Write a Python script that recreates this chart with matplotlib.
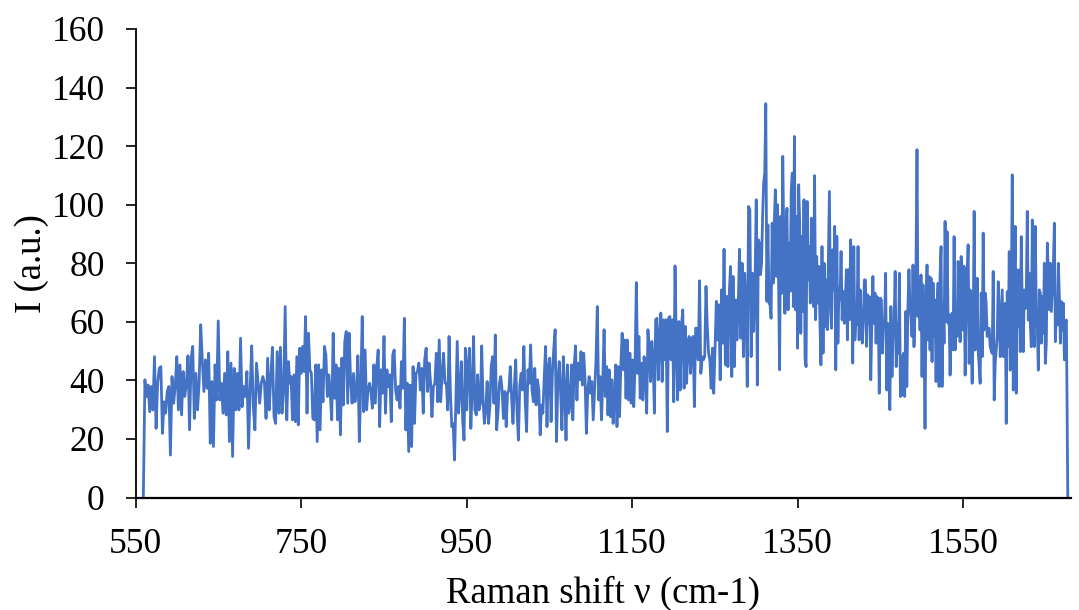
import numpy as np
import matplotlib
matplotlib.use('Agg')
import matplotlib.pyplot as plt

# Raman spectrum, values
# each piece: (start cm-1, end cm-1) and intensities between them
seg1_range = (559.3, 736.5)
seg1 = [0, 40.2, 34.5, 38.4, 29.3, 37.9, 29.9, 48.1, 23.6, 39.0, 44.1, 44.7, 21.9, 32.7, 28.8,
        36.2, 37.9, 14.5, 41.3, 32.2, 37.9, 48.1, 29.9, 45.3, 28.2, 43.0, 34.5, 39.0, 48.4, 23.1,
        47.6, 51.6, 27.0, 42.4, 29.9, 39.0, 59.0, 47.0, 36.2, 47.0, 37.3, 49.3, 18.5, 39.6, 17.4,
        45.3, 33.3, 60.3, 33.3, 39.0, 28.8, 42.4, 28.2, 49.8, 19.1, 45.9, 14.0, 44.1, 29.9, 42.4,
        29.9, 54.4, 31.0, 37.9, 34.5, 43.0, 16.8, 36.7, 51.8, 31.0, 23.1, 45.9, 39.0, 32.2, 39.0,
        41.3, 39.0, 27.0, 47.6, 29.9, 41.3, 51.3, 27.6, 25.3, 49.8, 28.8, 51.3, 28.8, 35.6, 65.2,
        26.5, 46.4, 39.0]

seg2_range = (737.8, 923.9)
seg2 = [41.3, 26.5, 41.9, 25.9, 48.1, 24.8, 51.0, 42.4, 51.6, 43.0, 61.8, 28.8, 56.1, 43.6, 42.4,
        27.0, 26.5, 45.3, 19.1, 45.3, 23.1, 43.6, 32.7, 51.6, 48.7, 34.5, 41.9, 35.6, 26.5, 56.1,
        33.9, 45.3, 26.5, 44.1, 21.4, 47.6, 31.6, 53.3, 56.7, 32.2, 56.1, 40.2, 32.2, 42.4, 32.7,
        35.6, 48.4, 19.1, 37.9, 61.8, 29.3, 50.4, 29.9, 36.7, 39.0, 36.2, 30.5, 45.3, 32.2, 44.7,
        50.4, 24.2, 43.6, 35.6, 55.0, 28.8, 43.6, 37.9, 41.9, 25.9, 48.7, 50.4, 36.7, 33.3, 37.9,
        30.5, 46.4, 37.3, 61.2, 23.1, 39.0, 15.7, 38.4, 17.4, 44.7, 25.3, 42.4, 43.0, 45.9, 36.7,
        44.1, 28.8, 47.0, 51.0, 36.2, 45.9, 39.6, 27.6, 37.9, 39.0, 49.3, 32.7, 53.8, 32.7, 41.9,
        49.3, 39.0]

seg3_range = (925.5, 1111.2)
seg3 = [39.0, 29.9, 55.0, 35.6, 24.2, 25.3, 12.8, 33.3, 53.3, 28.8, 36.7, 46.4, 26.5, 19.6, 51.0,
        29.9, 45.3, 51.0, 23.6, 36.7, 55.0, 29.9, 28.2, 41.9, 29.9, 32.2, 51.8, 32.7, 25.3, 30.5,
        39.6, 25.3, 31.0, 44.7, 48.1, 32.2, 55.5, 23.1, 29.3, 39.0, 41.3, 36.7, 27.0, 36.2, 24.2,
        35.6, 36.7, 44.7, 33.9, 25.3, 37.9, 47.0, 28.8, 19.6, 38.4, 42.4, 36.7, 51.6, 32.7, 22.5,
        43.6, 39.0, 52.1, 36.7, 32.7, 44.1, 31.6, 40.2, 36.7, 21.4, 31.6, 28.8, 41.3, 51.6, 24.2,
        44.7, 47.6, 25.9, 42.4, 51.0, 57.3, 19.1, 39.6, 46.4, 36.2, 23.1, 48.1, 36.7, 19.6, 45.3,
        28.8, 31.6, 45.3, 26.5, 44.7, 51.8, 33.3, 45.9, 40.2, 49.8, 38.4, 49.3, 40.2, 21.9, 36.7,
        41.3, 35.6, 39.6, 26.5, 36.7, 46.4, 65.2, 33.3, 41.3]

seg4_range = (1113.0, 1298.5)
seg4 = [26.5, 40.2, 57.3, 34.5, 44.7, 28.2, 43.6, 27.6, 40.2, 25.3, 33.3, 45.3, 24.2, 44.7, 27.6,
        45.3, 56.1, 43.6, 53.8, 33.9, 53.8, 33.3, 49.3, 32.2, 47.0, 31.0, 44.7, 73.4, 42.4, 55.0,
        33.9, 45.9, 33.3, 48.1, 42.4, 28.8, 57.3, 49.3, 39.6, 53.3, 47.0, 28.8, 60.7, 61.2, 40.2,
        53.8, 63.0, 39.6, 60.7, 47.0, 60.7, 22.5, 61.2, 61.8, 47.0, 60.7, 32.7, 79.1, 52.7, 33.3,
        60.1, 36.7, 58.4, 64.1, 37.3, 58.4, 39.0, 53.3, 55.0, 42.4, 53.8, 55.0, 31.0, 57.8, 57.8,
        47.0, 74.0, 42.4, 48.1, 47.0, 48.1, 72.1, 58.4, 49.3, 47.0, 37.3, 51.0, 35.6, 50.4, 67.0,
        53.8, 65.8, 40.2, 70.9, 52.7, 84.8, 45.3, 68.7, 44.7, 69.2, 78.9, 41.3, 75.5, 44.7, 67.5,
        53.8, 65.8, 84.8, 54.4, 80.0, 48.1, 76.6, 65.2, 37.9, 99.4, 98.3, 48.1, 76.6, 56.7, 73.2]

seg5_range = (1300.0, 1485.8)
seg5 = [101.7, 38.4, 88.0, 86.9, 76.1, 80.0, 96.0, 107.4, 110.8, 134.5, 67.0, 93.1, 66.4, 65.8,
        61.2, 93.7, 73.2, 93.7, 105.1, 75.5, 100.0, 75.5, 43.6, 96.0, 69.8, 116.5, 88.0, 62.9,
        93.7, 98.8, 64.1, 86.9, 70.4, 105.1, 110.8, 65.2, 123.3, 64.1, 96.0, 51.0, 106.8, 93.7,
        56.1, 89.2, 63.5, 101.7, 47.6, 44.7, 101.1, 74.3, 85.7, 66.4, 95.4, 77.2, 65.2, 109.9,
        60.7, 82.3, 66.4, 78.9, 60.7, 45.3, 85.7, 49.3, 80.0, 58.4, 74.3, 57.3, 80.0, 104.5, 64.1,
        57.8, 84.6, 70.9, 92.6, 43.6, 89.2, 52.7, 71.5, 67.5, 84.0, 60.7, 70.4, 59.5, 66.4, 77.8,
        53.8, 77.8, 60.7, 88.0, 76.6, 45.9, 85.7, 53.8, 60.7, 59.0, 85.7, 53.8, 70.9, 60.7, 52.7,
        60.7, 74.3, 74.3, 51.6, 69.2, 59.5, 68.6, 40.2, 59.5, 75.5, 59.5, 69.8, 52.7, 68.6, 66.4,
        35.6, 68.1, 67.5, 49.3, 60.1, 59.5, 76.6, 36.7, 59.5, 41.3, 30.0, 65.2, 41.3, 55.0, 59.5,
        77.2, 44.7, 59.5, 49.3, 76.6, 34.5, 48.1, 35.0, 49.3, 34.5, 63.5, 37.9, 64.1, 77.8, 65.2]

seg6_range = (1487.0, 1674.8)
seg6 = [61.8, 55.0, 79.4, 51.5, 63.5, 78.9, 118.8, 61.8, 70.9, 57.2, 76.0, 41.3, 72.6, 55.0, 23.6,
        65.2, 79.4, 53.8, 75.5, 50.4, 74.9, 46.4, 73.2, 55.0, 67.5, 39.6, 64.1, 73.2, 37.9, 75.5,
        85.7, 37.9, 66.3, 52.7, 94.3, 60.1, 90.8, 59.5, 62.4, 41.8, 58.4, 63.0, 50.4, 89.1, 50.4,
        63.5, 55.0, 80.6, 70.9, 53.2, 82.3, 78.3, 57.2, 78.9, 41.8, 64.1, 74.9, 86.3, 45.8, 70.9,
        53.2, 39.0, 57.2, 97.7, 50.4, 59.5, 74.9, 50.4, 44.7, 39.0, 69.8, 48.1, 90.3, 57.2, 69.8,
        66.3, 55.0, 57.2, 57.8, 51.5, 50.4, 49.2, 77.2, 33.3, 45.8, 50.4, 55.0, 73.7, 64.1, 48.1,
        59.5, 70.9, 48.1, 63.0, 66.3, 25.3, 70.3, 51.5, 84.0, 43.5, 67.5, 110.2, 36.7, 70.9, 92.6,
        35.6, 77.7, 58.4, 77.7, 49.8, 89.1, 64.1, 49.8, 70.9, 64.6, 69.8, 97.7, 60.6, 76.6, 59.5,
        51.5, 94.8, 58.4, 51.5, 92.6, 61.8, 58.4, 43.5, 70.9, 69.8, 52.7, 68.6, 56.1, 80.0, 45.8,
        52.7, 86.9, 76.6, 64.1, 80.0, 63.5, 70.9, 78.9, 93.7, 53.2, 64.1, 58.9, 80.0, 68.6, 52.7,
        66.9, 57.2, 66.3, 47.0, 59.5, 60.6]

end_point = (1676.5, 0)

yticks = [0, 20, 40, 60, 80, 100, 120, 140, 160]
xticks = [550, 750, 950, 1150, 1350, 1550]


def build_spectrum():
    shift = []
    inten = []
    for rng, vals in [(seg1_range, seg1), (seg2_range, seg2), (seg3_range, seg3),
                      (seg4_range, seg4), (seg5_range, seg5), (seg6_range, seg6)]:
        shift.extend(np.linspace(rng[0], rng[1], len(vals)))
        inten.extend(vals)
    shift.append(end_point[0])
    inten.append(end_point[1])
    return np.array(shift), np.array(inten)


def main():
    plt.rcParams['font.family'] = ['Liberation Serif', 'DejaVu Serif']
    shift, inten = build_spectrum()

    fig = plt.figure(figsize=(10.79, 6.10), dpi=100)
    ax = fig.add_axes([0.1257, 0.1844, 0.8666, 0.7681])
    ax.plot(shift, inten, color='#4472C4', linewidth=2.0)

    ax.set_xlim(550, 1680)
    ax.set_ylim(0, 160)
    ax.set_xticks(xticks)
    ax.set_yticks(yticks)
    ax.tick_params(axis='both', direction='out', length=7.2, width=1.2,
                   labelsize=25.5, pad=15, colors='black')

    # excel style - only left and bottom axis lines
    ax.spines['top'].set_visible(False)
    ax.spines['right'].set_visible(False)
    ax.spines['left'].set_linewidth(1.3)
    ax.spines['bottom'].set_linewidth(1.6)

    ax.set_xlabel('Raman shift ν (cm-1)', fontsize=26.5, labelpad=10)
    ax.set_ylabel('I (a.u.)', fontsize=26.5, labelpad=2)

    fig.savefig('out.png', dpi=100)


if __name__ == '__main__':
    main()
